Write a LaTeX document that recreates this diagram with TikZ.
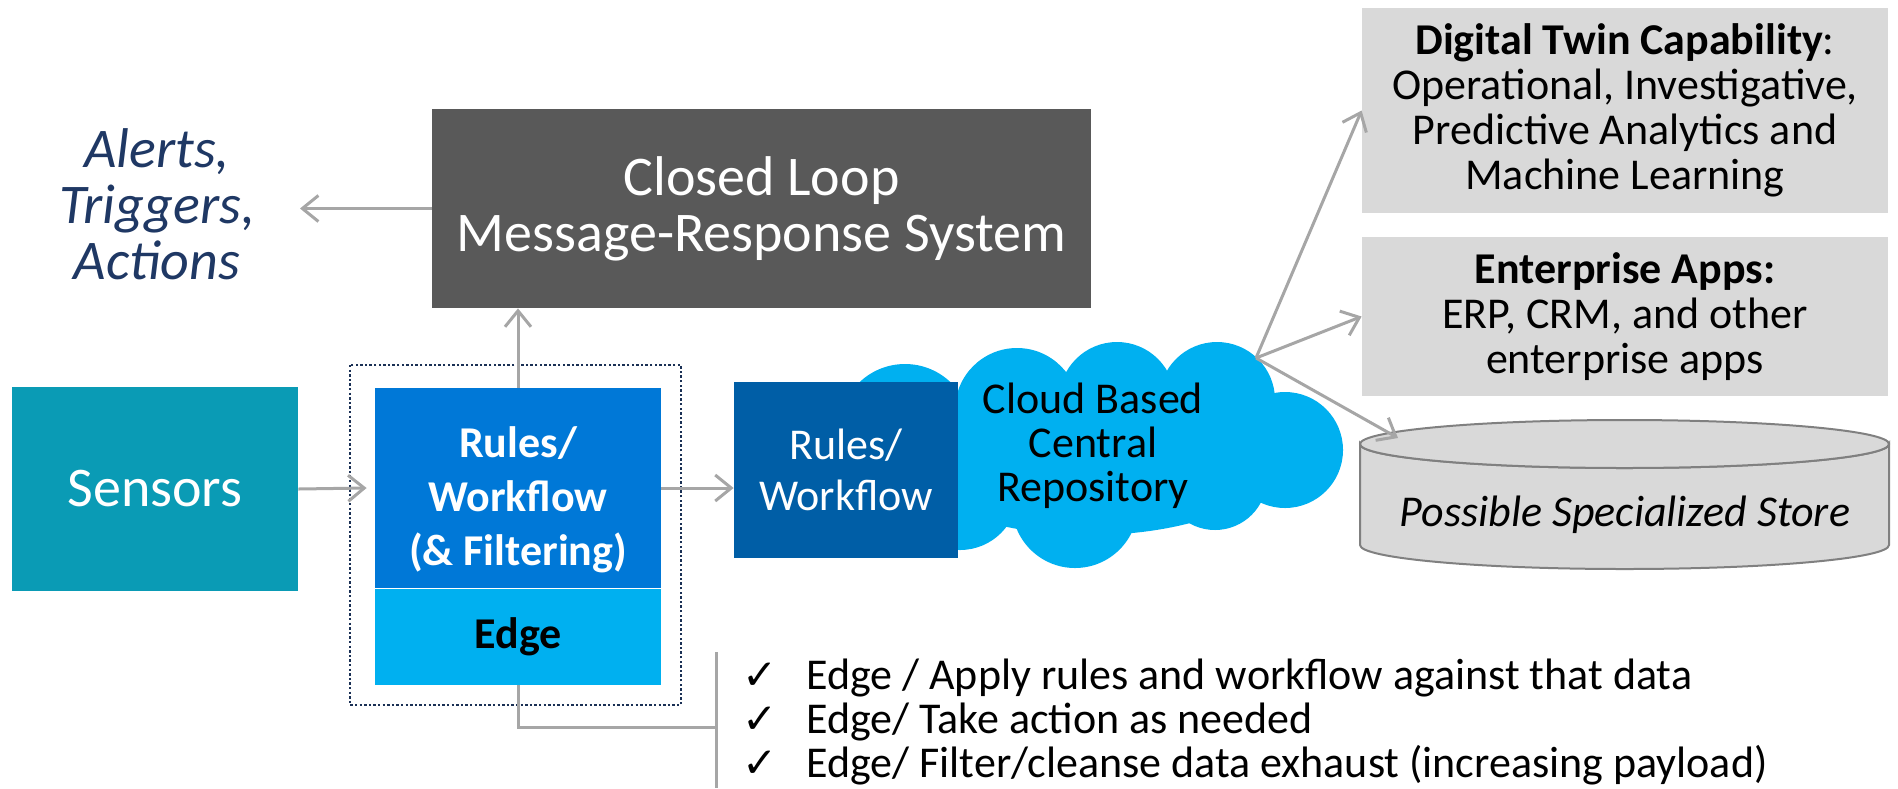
\documentclass[tikz,border=0pt]{standalone}
\usepackage{fontspec}
\setmainfont{Carlito}
\newfontfamily\symfont{DejaVu Sans}
\usepackage{tikz}
\usepackage{xcolor}
\usetikzlibrary{arrows.meta, positioning}

\definecolor{sensteal}{HTML}{0A9BB5}
\definecolor{loopgray}{HTML}{595959}
\definecolor{rulesblue}{HTML}{0078D7}
\definecolor{edgeblue}{HTML}{00B0F0}
\definecolor{darkblue}{HTML}{005EA6}
\definecolor{boxgray}{HTML}{D9D9D9}
\definecolor{arrowgray}{HTML}{A6A6A6}
\definecolor{storeline}{HTML}{808080}
\definecolor{navy}{HTML}{1F3864}

\newcommand{\chk}{\makebox[32pt][l]{\symfont\fontsize{21}{22}\selectfont ✓}}

\begin{document}
\begin{tikzpicture}[x=0.5pt, y=-0.5pt,
    block/.style={rectangle, inner sep=0pt, align=center, text=white},
    bigtext/.style={font=\fontsize{28}{28}\selectfont},
    midtext/.style={font=\fontsize{22}{22}\selectfont},
    graybox/.style={block, fill=boxgray, text=black, minimum width=263pt, font=\fontsize{22}{22.6}\selectfont},
    arrowline/.style={draw=arrowgray, line width=1.5pt, -{Straight Barb[length=8pt,width=13pt]}},
    plainline/.style={draw=arrowgray, line width=1.5pt}]
\useasboundingbox (0,0) rectangle (1898,788);

% left side
\node[block, fill=sensteal, minimum width=143pt, minimum height=102pt, bigtext] (sensors) at (155,489) {Sensors};
\node[block, fill=loopgray, minimum width=329.5pt, minimum height=99.5pt, bigtext] (loop) at (761.5,208.5) {Closed Loop\\Message-Response System};
\node[align=center, text=navy, inner sep=0pt, font=\fontsize{28}{28}\selectfont\itshape] (alerts) at (157,204) {Alerts,\\Triggers,\\Actions};
\coordinate (alertsin) at (300,208.5);

% edge device
\node[block, fill=rulesblue, minimum width=143pt, minimum height=100pt, font=\fontsize{22}{27}\selectfont\bfseries] (rules) at (518,488) {\rule{0pt}{27pt}Rules/\\Workflow\\(\& Filtering)};
\node[block, fill=edgeblue, text=black, minimum width=143pt, minimum height=48pt, font=\fontsize{22}{26}\selectfont\bfseries, below=0pt of rules] (edge) {Edge};
\draw[navy!85!black, line width=1.3pt, dash pattern=on 1.2pt off 1.1pt] (350,365) rectangle (681,705);

% cloud, puff by puff
\fill[edgeblue] (1090,455) ellipse [x radius=190, y radius=80];
\foreach \cx/\cy/\r in {905/430/66, 1017/410/62, 1117/400/58, 1217/400/58,
                        1285/450/58, 1215/478/52, 1075/505/63, 960/492/58}
    \fill[edgeblue] (\cx,\cy) circle [radius=\r];
\node[midtext, align=center, inner sep=0pt] (cloud) at (1093,446) {Cloud Based\\Central\\Repository};
\node[block, fill=darkblue, minimum width=112pt, minimum height=88pt, font=\fontsize{22}{25.5}\selectfont] (edgerules) at (846,470) {Rules/\\Workflow};
\coordinate (hub) at (1256,358);

% right side
\node[graybox, minimum height=102.5pt] (twin) at (1625,110.5) {{\bfseries Digital Twin Capability}:\\Operational, Investigative,\\Predictive Analytics and\\Machine Learning};
\node[graybox, minimum height=79.5pt] (apps) at (1625,316.5) {{\bfseries Enterprise Apps:}\\ERP, CRM, and other\\enterprise apps};
\filldraw[fill=boxgray, draw=storeline, line width=1pt] (1360,444) -- (1360,545) arc[start angle=180, end angle=0, x radius=264.5, y radius=24] -- (1889,444) arc[start angle=0, end angle=180, x radius=264.5, y radius=24] -- cycle;
\filldraw[fill=boxgray, draw=storeline, line width=1pt] (1624.5,444) ellipse [x radius=264.5, y radius=24];
\node[font=\fontsize{22}{22}\selectfont\itshape, inner sep=0pt] (store) at (1625,515) {Possible Specialized Store};
\coordinate (storein) at (1398,438);

% bracket and list
\coordinate (brtop) at (716,652);
\coordinate (brbot) at (716,788);
\coordinate (brjoin) at (716,727);
\node[anchor=west, align=left, inner sep=0pt, font=\fontsize{22}{22}\selectfont] (todo) at (742,722) {\chk Edge / Apply rules and workflow against that data\\\chk Edge/ Take action as needed\\\chk Edge/ Filter/cleanse data exhaust (increasing payload)};

% connectors
\draw[arrowline] (sensors.east) -- ([xshift=-4pt]rules.west);
\draw[arrowline] (rules.east) -- (rules.east -| edgerules.west);
\draw[arrowline] (rules.north) -- (rules.north |- loop.south);
\draw[arrowline] (loop.west) -- (alertsin);
\draw[plainline] (edge.south) |- (brjoin);
\draw[plainline] (brtop) -- (brbot);
\draw[arrowline] (hub) -- (twin.west);
\draw[arrowline] (hub) -- (apps.west);
\draw[arrowline] (hub) -- (storein);
\end{tikzpicture}
\end{document}
